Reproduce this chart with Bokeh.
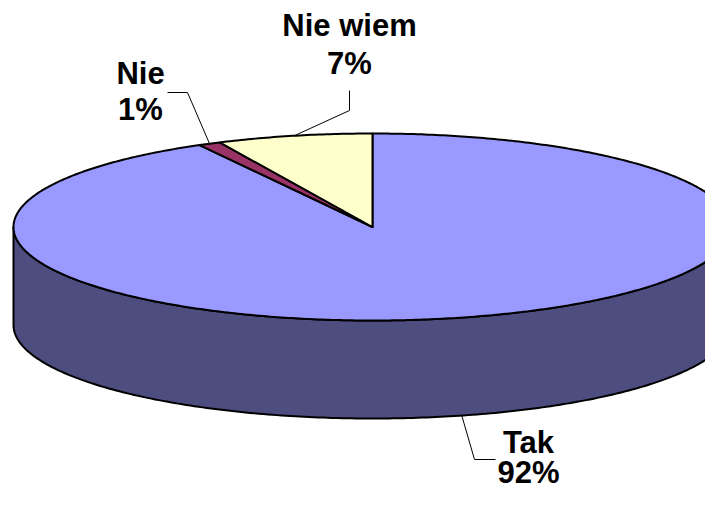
import numpy as np
from bokeh.plotting import figure
from bokeh.models import Range1d
from bokeh.core.properties import value
from bokeh.embed import file_html
from bokeh.resources import INLINE

# ---- data ----
labels = ["Tak", "Nie", "Nie wiem"]
values = [92, 1, 7]
pct_labels = ["92%", "1%", "7%"]
top_colors = ["#9999FF", "#993366", "#FFFFCC"]
side_colors = ["#4D4D80", "#4D1A33", "#808066"]

# ---- geometry (pixel space of the picture) ----
CX, CY, RX, RY, DEPTH = 372.0, 226.5, 359.0, 93.5, 98.0
FONT = "Liberation Sans"

p = figure(width=705, height=491, output_backend="svg", toolbar_location=None,
           x_range=Range1d(0, 705), y_range=Range1d(491, 0), min_border=0)
p.axis.visible = False
p.grid.visible = False
p.outline_line_color = None
p.background_fill_color = "white"
p.border_fill_color = "white"


def pt(theta_deg, dy=0.0):
    t = np.radians(theta_deg)
    return CX + RX * np.sin(t), CY - RY * np.cos(t) + dy


total = float(sum(values))
# slices go clockwise from 12 o'clock
bounds = np.concatenate([[0.0], np.cumsum(values) / total * 360.0])

# side wall (front half, 90..270 deg), coloured by the slice it belongs to
for i in range(len(values)):
    a0 = max(bounds[i], 90.0)
    a1 = min(bounds[i + 1], 270.0)
    if a1 <= a0:
        continue
    th = np.linspace(a0, a1, 240)
    xt, yt = pt(th)
    xb, yb = pt(th[::-1], DEPTH)
    p.patch(np.concatenate([xt, xb]), np.concatenate([yt, yb]),
            fill_color=side_colors[i], line_color="black", line_width=2,
            line_join="round")

# top faces
for i in range(len(values)):
    th = np.linspace(bounds[i], bounds[i + 1], max(4, int(values[i] * 6)))
    xa, ya = pt(th)
    p.patch(np.concatenate([[CX], xa]), np.concatenate([[CY], ya]),
            fill_color=top_colors[i], line_color="black", line_width=2,
            line_join="round")

# labels: (center x, first line y, second line y) and leader elbow points
label_pos = {"Tak": (528, 442, 472), "Nie": (140, 73, 109), "Nie wiem": (349, 25, 63)}
leader_pts = {"Tak": [(495, 459), (474, 459)],
              "Nie": [(167, 92), (187, 92)],
              "Nie wiem": [(349, 90), (349, 110)]}

for i, lab in enumerate(labels):
    mid = (bounds[i] + bounds[i + 1]) / 2.0
    dy = DEPTH if 90.0 < mid < 270.0 else 0.0
    ax, ay = pt(mid, dy)
    xs = [q[0] for q in leader_pts[lab]] + [ax]
    ys = [q[1] for q in leader_pts[lab]] + [ay]
    p.line(xs, ys, line_color="black", line_width=1)
    lx, b1, b2 = label_pos[lab]
    p.text(x=[lx, lx], y=[b1, b2], text=[lab, pct_labels[i]],
           text_font=value(FONT), text_font_style="bold",
           text_font_size="31px", text_align="center",
           text_baseline="alphabetic", text_color="black")

open("out.html", "w").write(file_html(p, INLINE))
